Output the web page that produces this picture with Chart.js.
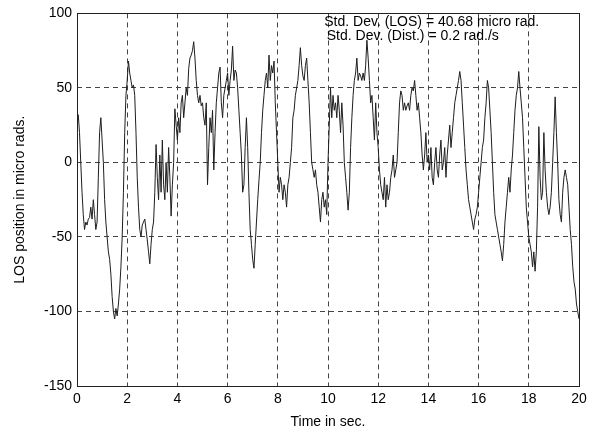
<!DOCTYPE html>
<html>
<head>
<meta charset="utf-8">
<script src="https://cdn.jsdelivr.net/npm/chart.js@4/dist/chart.umd.min.js"></script>
<style>
  html, body { margin: 0; padding: 0; background: #fff; }
  #wrap { width: 594px; height: 431px; }
</style>
</head>
<body>
<div id="wrap"><canvas id="chart"></canvas></div>
<script>
/* LOS position, one value every 0.05 s. */
const sampleStep = 0.05

const los0to5 = [
  30, 32, 20, 0, -20, -35, -45, -40, -42, -38,
  -37, -30, -38, -25, -35, -45, -40, -10, 20, 30,
  15, 0, -25, -40, -50, -60, -65, -75, -90, -100,
  -105, -98, -103, -95, -85, -70, -50, -20, 20, 45,
  55, 68, 60, 55, 50, 52, 45, 20, -10, -30,
  -45, -50, -42, -40, -38, -45, -52, -60, -68, -55,
  -45, -40, -20, 12, -10, -25, 5, -20, 15, -15,
  -25, 0, -20, 10, -10, -36, -15, 0, 36, 25,
  15, 30, 20, 40, 45, 30, 40, 50, 45, 63,
  70, 72, 75, 81, 70, 55, 45, 40, 45, 38
]

const los5to10 = [
  40, 30, 25, 40, -15, 10, 30, 20, 35, -5,
  20, 40, 50, 60, 64, 40, 30, 45, 50, 55,
  60, 45, 55, 62, 78, 55, 62, 60, 50, 35,
  20, 5, -20, -15, 10, 30, 10, -20, -45, -55,
  -65, -71, -55, -40, -25, -12, 0, 20, 35, 45,
  55, 60, 50, 72, 55, 65, 60, 68, 40, 20,
  0, -20, -10, -15, -25, -15, -20, -30, -15, -10,
  0, 10, 30, 35, 45, 50, 55, 65, 77, 65,
  58, 55, 65, 70, 55, 40, 20, 0, -5, -10,
  -5, -15, -20, -30, -40, -25, -20, -30, -25, -35
]

const los10to15 = [
  0, 25, 50, 30, 45, 35, 40, 30, 45, 35,
  20, 40, 25, 0, -10, -20, -32, -20, 10, 30,
  45, 55, 60, 70, 55, 60, 58, 55, 60, 55,
  65, 82, 70, 55, 40, 45, 30, 15, 40, 20,
  10, -5, -15, -20, -25, -10, -30, -15, -25, -20,
  -10, -5, 5, -10, -5, 0, 20, 40, 48, 45,
  35, 40, 35, 38, 40, 35, 45, 50, 48, 55,
  45, 35, 40, 30, 20, 5, -5, 5, 20, 0,
  5, -5, 10, -10, -15, 0, 10, -5, -10, 5,
  15, -5, 0, 10, -10, 5, 15, 25, 10, 20
]

const los15to20 = [
  30, 40, 45, 50, 55, 61, 55, 40, 25, 10,
  -5, -15, -25, -30, -35, -40, -45, -38, -35, -30,
  -20, -10, 0, 10, 15, 30, 40, 55, 50, 35,
  20, 0, -20, -35, -40, -45, -50, -55, -60, -66,
  -55, -40, -30, -20, -10, -20, -5, 5, 20, 35,
  45, 50, 61, 50, 40, 30, 10, -10, -30, -40,
  -50, -55, -60, -70, -60, -73, -60, -30, 24, -10,
  -25, -20, 20, -5, -20, -30, -35, -30, -20, 0,
  20, 44, 20, 0, -25, -35, -40, -20, -10, -5,
  -10, -15, -30, -45, -55, -70, -80, -85, -95, -100,
  -105
]

const segments = [
  { start: 0, values: los0to5 },
  { start: 5, values: los5to10 },
  { start: 10, values: los10to15 },
  { start: 15, values: los15to20 }
]

const xTicks = [0, 2, 4, 6, 8, 10, 12, 14, 16, 18, 20]
const yTicks = [-150, -100, -50, 0, 50, 100]

const noteLines = [
  "Std. Dev. (LOS) = 40.68 micro rad.",
  "Std. Dev. (Dist.) = 0.2 rad./s"
]

/* Build the point list. */
const points = []
segments.forEach(seg => {
  seg.values.forEach((v, i) => {
    points.push({ x: +(seg.start + i * sampleStep).toFixed(2), y: v })
  })
})

const font = "'Liberation Sans', Arial, sans-serif"

/* White background and the text box in the top right. */
const notePlugin = {
  id: "note",
  beforeDraw(chart) {
    const ctx = chart.ctx
    ctx.save()
    ctx.fillStyle = "#fff"
    ctx.fillRect(0, 0, chart.width, chart.height)
    ctx.restore()
  },
  afterDraw(chart) {
    const ctx = chart.ctx
    const xs = chart.scales.x
    const ys = chart.scales.y
    ctx.save()
    ctx.fillStyle = "#000"
    ctx.font = "14px " + font
    ctx.textBaseline = "middle"
    ctx.fillText(noteLines[0], xs.getPixelForValue(9.85), ys.getPixelForValue(94))
    ctx.fillText(noteLines[1], xs.getPixelForValue(9.95), ys.getPixelForValue(85))
    ctx.restore()
  }
}

/* Solid frame round the plot. */
const framePlugin = {
  id: "frame",
  afterDatasetsDraw(chart) {
    const a = chart.chartArea
    const ctx = chart.ctx
    ctx.save()
    ctx.strokeStyle = "#222"
    ctx.lineWidth = 1
    ctx.strokeRect(Math.round(a.left) + 0.5, Math.round(a.top) + 0.5,
      Math.round(a.right - a.left), Math.round(a.bottom - a.top))
    ctx.restore()
  }
}

new Chart(document.getElementById("chart"), {
  type: "line",
  data: {
    datasets: [{
      data: points,
      borderColor: "#1e1e1e",
      borderWidth: 1,
      pointRadius: 0,
      tension: 0,
      fill: false
    }]
  },
  options: {
    responsive: true,
    maintainAspectRatio: false,
    animation: false,
    events: [],
    layout: { padding: { top: 13, right: 15, left: 0, bottom: 0 } },
    plugins: {
      legend: { display: false },
      tooltip: { enabled: false }
    },
    scales: {
      x: {
        type: "linear",
        min: 0,
        max: 20,
        afterBuildTicks: scale => { scale.ticks = xTicks.map(v => ({ value: v })) },
        afterFit: scale => { scale.height = 45 },
        grid: {
          color: "#444",
          lineWidth: 1,
          drawTicks: false
        },
        border: { display: false, dash: [5, 4] },
        ticks: {
          color: "#000",
          font: { family: font, size: 14 },
          padding: 5,
          maxRotation: 0
        },
        title: {
          display: true,
          text: "Time in sec.",
          color: "#000",
          font: { family: font, size: 14 },
          padding: { top: 0, bottom: 0 }
        }
      },
      y: {
        min: -150,
        max: 100,
        afterBuildTicks: scale => { scale.ticks = yTicks.map(v => ({ value: v })) },
        afterFit: scale => { scale.width = 77 },
        grid: {
          color: "#444",
          lineWidth: 1,
          drawTicks: false
        },
        border: { display: false, dash: [5, 4] },
        ticks: {
          color: "#000",
          font: { family: font, size: 14 },
          padding: 5
        },
        title: {
          display: true,
          text: "LOS position in micro rads.",
          color: "#000",
          font: { family: font, size: 14 },
          padding: { top: 12, bottom: 0 }
        }
      }
    }
  },
  plugins: [notePlugin, framePlugin]
})
</script>
</body>
</html>
